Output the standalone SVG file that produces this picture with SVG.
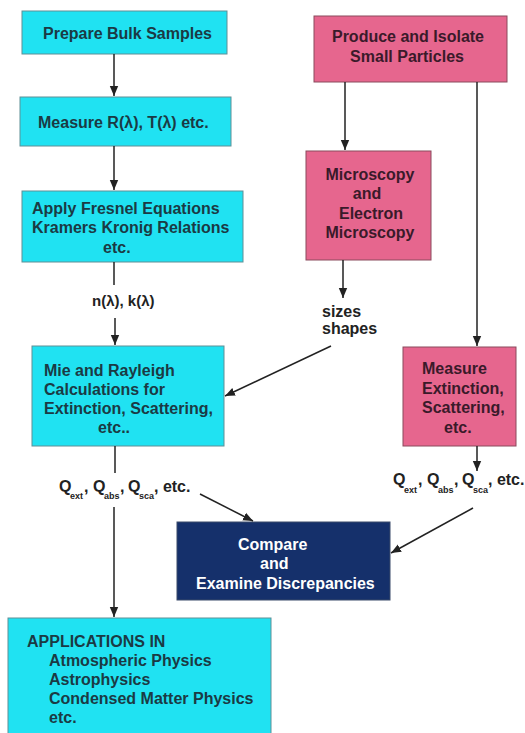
<svg xmlns="http://www.w3.org/2000/svg" width="525" height="733" viewBox="0 0 525 733">
<style>
text{font-family:"Liberation Sans",Arial,sans-serif;font-weight:bold;font-size:16px}
.cy{fill:#20e2f2;stroke:#5f8f96;stroke-width:1}
.pk{fill:#e6668e;stroke:#8a4a5c;stroke-width:1}
.nv{fill:#15306b;stroke:#3a4a6a;stroke-width:1}
.tc{fill:#1b3a44}
.tp{fill:#3a1a2a}
.tn{fill:#ffffff}
.tl{fill:#222222}
.sub{font-size:9px}
.c{text-anchor:middle}
#edges line{stroke:#222;stroke-width:1.5;fill:none}
</style>
<defs>
<marker id="ah" markerUnits="userSpaceOnUse" markerWidth="10" markerHeight="10" viewBox="0 0 10 10" refX="10" refY="5" orient="auto">
<path d="M0,0.8 L10,5 L0,9.2 Z" fill="#222"/>
</marker>
</defs>
<rect width="525" height="733" fill="#ffffff"/>

<g id="prepare">
<rect class="cy" x="22" y="11" width="205" height="43"/>
<text class="tc" x="43" y="39">Prepare Bulk Samples</text>
</g>
<g id="measureRT">
<rect class="cy" x="20" y="97" width="211" height="49"/>
<text class="tc" x="38" y="128">Measure R(λ), T(λ) etc.</text>
</g>
<g id="fresnel">
<rect class="cy" x="22" y="191" width="221" height="71"/>
<text class="tc" x="32" y="214">Apply Fresnel Equations</text>
<text class="tc" x="32" y="233">Kramers Kronig Relations</text>
<text class="tc" x="103" y="253">etc.</text>
</g>
<g id="nk">
<text class="tl" x="92" y="306" style="font-size:15px">n(λ), k(λ)</text>
</g>
<g id="mie">
<rect class="cy" x="32" y="346" width="192" height="100"/>
<text class="tc" x="44" y="376">Mie and Rayleigh</text>
<text class="tc" x="44" y="395">Calculations for</text>
<text class="tc" x="44" y="414">Extinction, Scattering,</text>
<text class="tc" x="98" y="433">etc..</text>
</g>
<g id="qleft">
<text class="tl" y="492"><tspan x="59">Q</tspan><tspan class="sub" x="70" y="499">ext</tspan><tspan x="84" y="492">,</tspan><tspan x="93">Q</tspan><tspan class="sub" x="104" y="499">abs</tspan><tspan x="120" y="492">,</tspan><tspan x="128">Q</tspan><tspan class="sub" x="139" y="499">sca</tspan><tspan x="154" y="492">, etc.</tspan></text>
</g>
<g id="applications">
<rect class="cy" x="8" y="618" width="263" height="120"/>
<text class="tc" x="27" y="647">APPLICATIONS IN</text>
<text class="tc" x="49" y="666">Atmospheric Physics</text>
<text class="tc" x="49" y="685">Astrophysics</text>
<text class="tc" x="49" y="704">Condensed Matter Physics</text>
<text class="tc" x="49" y="723">etc.</text>
</g>
<g id="produce">
<rect class="pk" x="314" y="16" width="193" height="66"/>
<text class="tp c" x="408" y="42">Produce and Isolate</text>
<text class="tp c" x="407" y="62">Small Particles</text>
</g>
<g id="microscopy">
<rect class="pk" x="306" y="151" width="125" height="109"/>
<text class="tp c" x="370" y="180">Microscopy</text>
<text class="tp c" x="367" y="199">and</text>
<text class="tp c" x="371" y="219">Electron</text>
<text class="tp c" x="370" y="238">Microscopy</text>
</g>
<g id="sizes">
<text class="tl" x="322" y="317">sizes</text>
<text class="tl" x="322" y="334">shapes</text>
</g>
<g id="measureExt">
<rect class="pk" x="403" y="347" width="113" height="99"/>
<text class="tp" x="422" y="374">Measure</text>
<text class="tp" x="422" y="394">Extinction,</text>
<text class="tp" x="422" y="413">Scattering,</text>
<text class="tp" x="444" y="433">etc.</text>
</g>
<g id="qright">
<text class="tl" y="485"><tspan x="393">Q</tspan><tspan class="sub" x="404" y="493">ext</tspan><tspan x="418" y="485">,</tspan><tspan x="427">Q</tspan><tspan class="sub" x="438" y="493">abs</tspan><tspan x="454" y="485">,</tspan><tspan x="462">Q</tspan><tspan class="sub" x="473" y="493">sca</tspan><tspan x="488" y="485">, etc.</tspan></text>
</g>
<g id="compare">
<rect class="nv" x="177" y="522" width="213" height="78"/>
<text class="tn" x="238" y="550">Compare</text>
<text class="tn" x="260" y="569">and</text>
<text class="tn" x="196" y="589">Examine Discrepancies</text>
</g>

<g id="edges">
<line x1="114" y1="54" x2="114" y2="96" marker-end="url(#ah)"/>
<line x1="114" y1="146" x2="114" y2="190" marker-end="url(#ah)"/>
<line x1="114" y1="262" x2="114" y2="285"/>
<line x1="115" y1="318" x2="115" y2="345" marker-end="url(#ah)"/>
<line x1="115" y1="446" x2="115" y2="473"/>
<line x1="114" y1="507" x2="114" y2="617" marker-end="url(#ah)"/>
<line x1="200" y1="494" x2="253" y2="521" marker-end="url(#ah)"/>
<line x1="345" y1="82" x2="345" y2="150" marker-end="url(#ah)"/>
<line x1="343" y1="260" x2="343" y2="298" marker-end="url(#ah)"/>
<line x1="331" y1="346" x2="225" y2="396" marker-end="url(#ah)"/>
<line x1="477" y1="82" x2="477" y2="346" marker-end="url(#ah)"/>
<line x1="477" y1="446" x2="477" y2="471" marker-end="url(#ah)"/>
<line x1="473" y1="508" x2="391" y2="553" marker-end="url(#ah)"/>
</g>
</svg>
